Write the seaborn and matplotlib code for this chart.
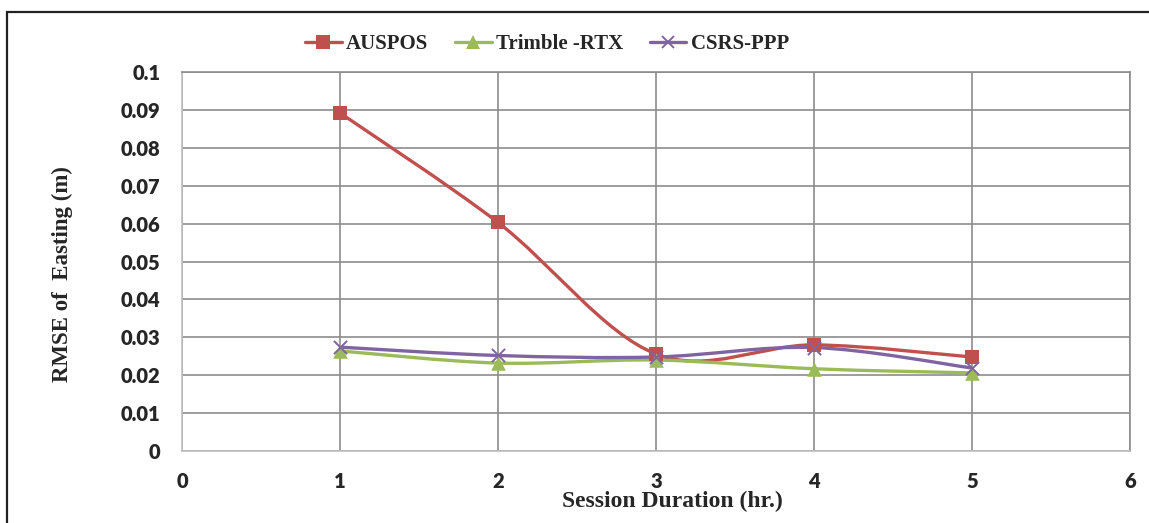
import numpy as np
import pandas as pd
import matplotlib
matplotlib.use("Agg")
import matplotlib.pyplot as plt
import seaborn as sns
from matplotlib.path import Path
from matplotlib.patches import PathPatch, Rectangle
from matplotlib.lines import Line2D

# ---- data ----
sessions = [1, 2, 3, 4, 5]
auspos = [0.0892, 0.0603, 0.0256, 0.0280, 0.0248]
trimble = [0.0264, 0.0232, 0.0240, 0.0217, 0.0206]
csrs = [0.0274, 0.0252, 0.0248, 0.0273, 0.0219]
series_names = ["AUSPOS", "Trimble -RTX", "CSRS-PPP"]
x_ticks = [0, 1, 2, 3, 4, 5, 6]
y_ticks = [0, 0.01, 0.02, 0.03, 0.04, 0.05, 0.06, 0.07, 0.08, 0.09, 0.1]
y_tick_labels = ["0", "0.01", "0.02", "0.03", "0.04", "0.05", "0.06", "0.07", "0.08", "0.09", "0.1"]

colors = ["#C0504D", "#9BBB59", "#8064A2"]
markers = ["s", "^", "x"]

sns.set_theme(style="white")
plt.rcParams['font.family'] = ['DejaVu Sans']

fig = plt.figure(figsize=(11.49, 5.23), dpi=100)
ax = fig.add_axes([182/1149, 1-451/523, (1130-182)/1149, (451-72)/523])

def smooth_path(xs, ys):
    # Excel-like smoothed line (Catmull-Rom as cubic Bezier)
    pts = list(zip(xs, ys))
    n = len(pts)
    verts = [pts[0]]
    codes = [Path.MOVETO]
    for i in range(n - 1):
        p0 = pts[i - 1] if i > 0 else pts[i]
        p1 = pts[i]
        p2 = pts[i + 1]
        p3 = pts[i + 2] if i + 2 < n else pts[i + 1]
        c1 = (p1[0] + (p2[0] - p0[0]) / 6, p1[1] + (p2[1] - p0[1]) / 6)
        c2 = (p2[0] - (p3[0] - p1[0]) / 6, p2[1] - (p3[1] - p1[1]) / 6)
        verts += [c1, c2, p2]
        codes += [Path.CURVE4] * 3
    return Path(verts, codes)

df = pd.DataFrame({
    "x": sessions * 3,
    "y": auspos + trimble + csrs,
    "s": [series_names[0]] * 5 + [series_names[1]] * 5 + [series_names[2]] * 5,
})

for name, vals, c in zip(series_names, [auspos, trimble, csrs], colors):
    ax.add_patch(PathPatch(smooth_path(sessions, vals), facecolor="none",
                           edgecolor=c, lw=2.4, zorder=3))

for name, c, m in zip(series_names, colors, markers):
    sub = df[df["s"] == name]
    if m == "x":
        ax.scatter(sub["x"], sub["y"], marker="x", s=90, color=c, linewidths=1.4, zorder=4)
    else:
        sns.scatterplot(data=sub, x="x", y="y", marker=m, s=110, color=c,
                        edgecolor=c, linewidth=0, ax=ax, zorder=4, legend=False)

ax.set_xlim(0, 6)
ax.set_ylim(0, 0.1)
ax.set_xticks(x_ticks)
ax.set_yticks(y_ticks)
ax.set_yticklabels(y_tick_labels)
ax.grid(True, color="#8C8C8C", lw=1.2)
ax.set_axisbelow(True)
for sp in ax.spines.values():
    sp.set_color("#BFBFBF")
    sp.set_linewidth(1.2)
ax.spines["top"].set_color("#8C8C8C")
ax.spines["right"].set_color("#8C8C8C")
ax.tick_params(axis="both", length=0, labelsize=14.5)
ax.tick_params(axis="y", pad=15.5)
ax.tick_params(axis="x", pad=15)
for lab in ax.get_xticklabels() + ax.get_yticklabels():
    lab.set_fontfamily("Lato")
    lab.set_fontweight("heavy")

ax.set_xlabel("Session Duration (hr.)", fontfamily="Liberation Serif", fontweight="bold",
              fontsize=17, va="center")
ax.xaxis.set_label_coords((672-182)/948, -(501-451)/379)
ax.set_ylabel("RMSE of  Easting (m)", fontfamily="Liberation Serif", fontweight="bold",
              fontsize=16.5, va="center")
ax.yaxis.set_label_coords((62-182)/948, (451-274)/379)

handles = []
for c, m in zip(colors, markers):
    if m == "x":
        handles.append(Line2D([], [], color=c, lw=2.4, marker="x", markersize=9, markeredgewidth=1.4))
    else:
        handles.append(Line2D([], [], color=c, lw=2.4, marker=m, markersize=10, markeredgewidth=0))
leg = fig.legend(handles, series_names, loc="center", bbox_to_anchor=(547/1149, 1-44/523), ncol=3,
                 frameon=False, handlelength=1.75, columnspacing=1.3, handletextpad=0.2,
                 prop={"family": "Liberation Serif", "weight": "bold", "size": 15})

fig.add_artist(Rectangle((7/1149, -0.1), 1.2, 1 - 12/523 + 0.1, transform=fig.transFigure,
                         facecolor="none", edgecolor="#222222", lw=1.6))

fig.savefig("out.png", dpi=100)
